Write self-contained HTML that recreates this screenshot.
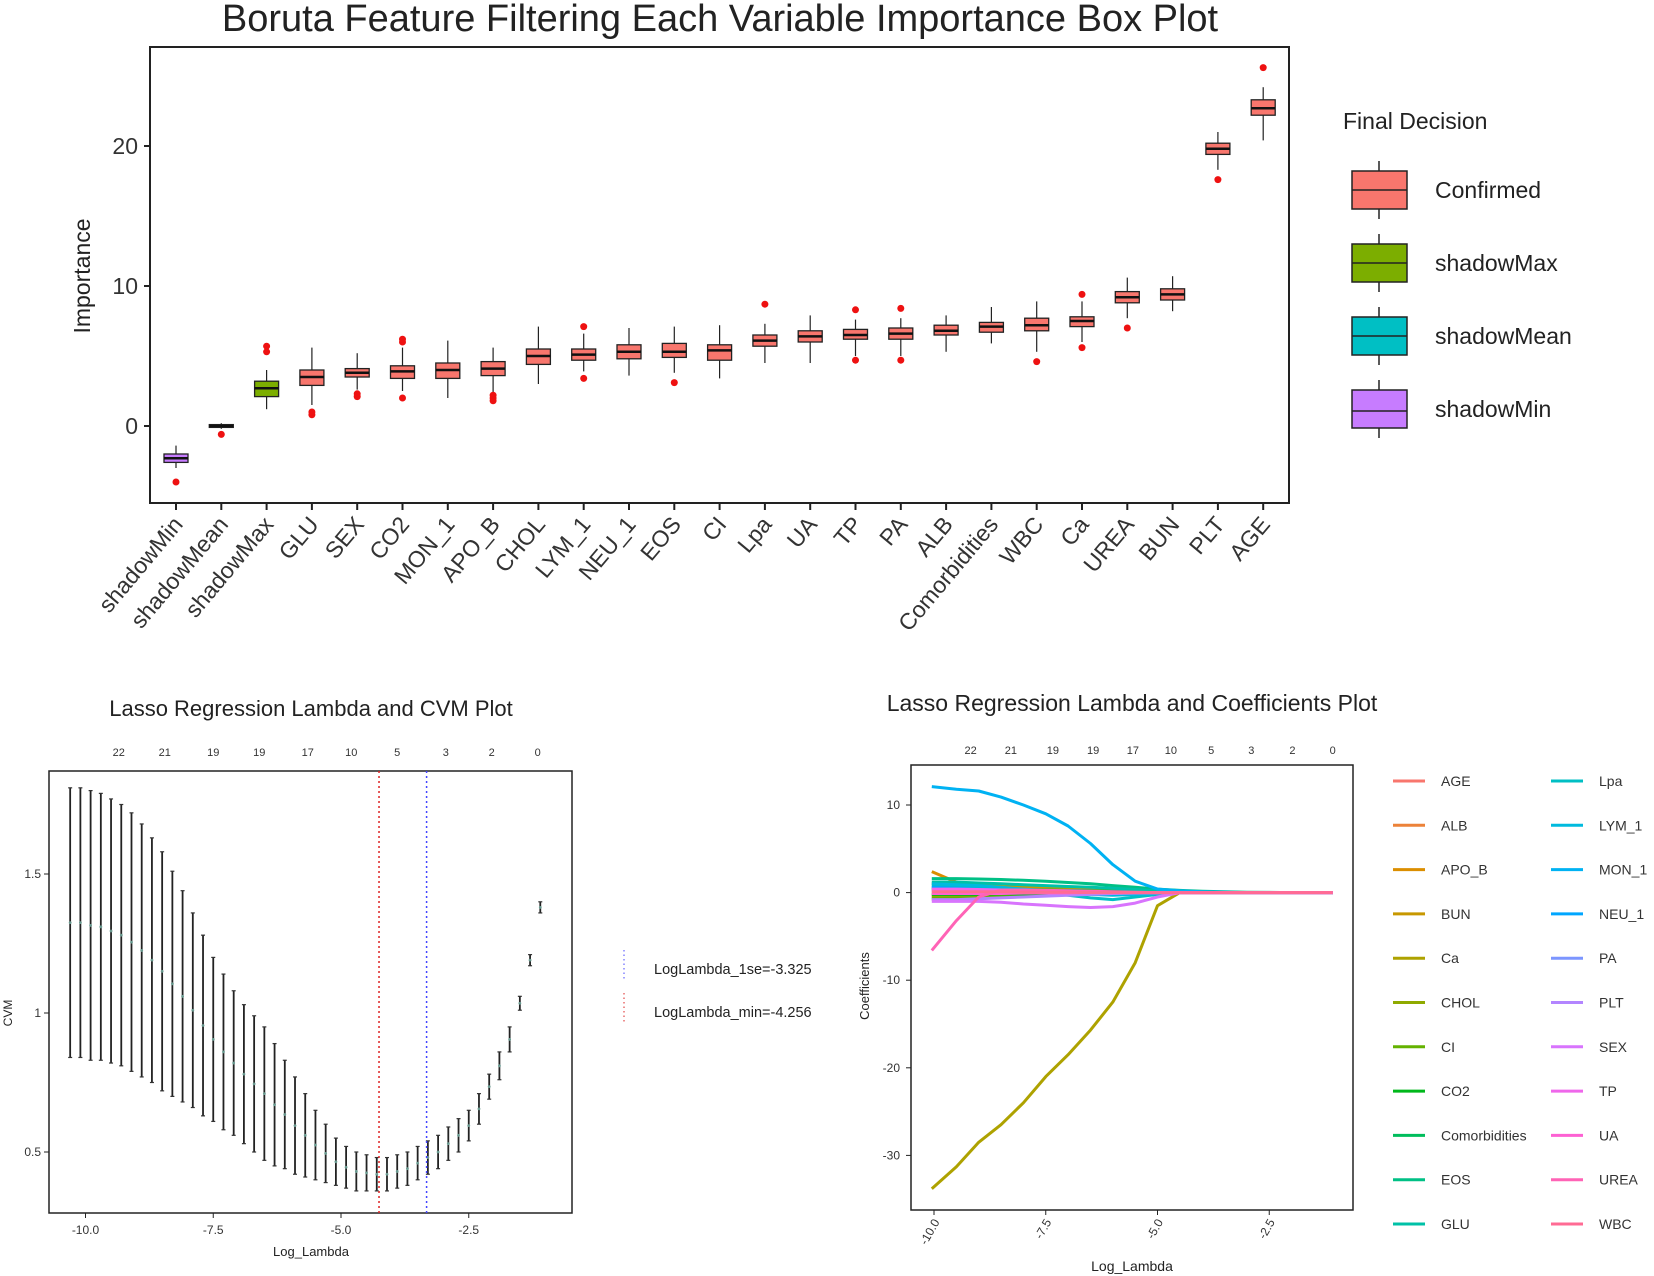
<!DOCTYPE html>
<html><head><meta charset="utf-8"><style>
html,body{margin:0;padding:0;background:#fff;}
svg{display:block;font-family:"Liberation Sans",sans-serif;}
</style></head><body>
<svg id="fig" width="1654" height="1276" viewBox="0 0 1654 1276" xmlns="http://www.w3.org/2000/svg">
<rect width="1654" height="1276" fill="#fff"/>
<g id="topChart">
<text x="720" y="31" font-size="38" text-anchor="middle" fill="#222">Boruta Feature Filtering Each Variable Importance Box Plot</text>
<rect x="150" y="47" width="1139" height="456" fill="#fff" stroke="#222" stroke-width="2"/>
<text transform="translate(90,276) rotate(-90)" font-size="23" text-anchor="middle" fill="#222">Importance</text>
<text x="1343" y="129" font-size="23" fill="#222">Final Decision</text>
</g>
<g id="cvm">
<text x="311" y="716" font-size="22" text-anchor="middle" fill="#222">Lasso Regression Lambda and CVM Plot</text>
<rect x="49" y="771" width="523" height="442" fill="#fff" stroke="#222" stroke-width="1.5"/>
<text transform="translate(12,1013) rotate(-90)" font-size="12" text-anchor="middle" fill="#222">CVM</text>
<text x="311" y="1256" font-size="13" text-anchor="middle" fill="#222">Log_Lambda</text>
<line x1="624" y1="950" x2="624" y2="980" stroke="#4444ff" stroke-dasharray="1.5,3"/>
<line x1="624" y1="993" x2="624" y2="1023" stroke="#dd2222" stroke-dasharray="1.5,3"/>
<text x="654" y="974" font-size="14.5" fill="#222">LogLambda_1se=-3.325</text>
<text x="654" y="1017" font-size="14.5" fill="#222">LogLambda_min=-4.256</text>
</g>
<g id="coef">
<text x="1132" y="711" font-size="23" text-anchor="middle" fill="#222">Lasso Regression Lambda and Coefficients Plot</text>
<rect x="911" y="765" width="442" height="445" fill="#fff" stroke="#222" stroke-width="1.5"/>
<text transform="translate(869,986) rotate(-90)" font-size="13" text-anchor="middle" fill="#222">Coefficients</text>
<text x="1132" y="1271" font-size="14" text-anchor="middle" fill="#222">Log_Lambda</text>
</g>
</svg>
<script>
const NS="http://www.w3.org/2000/svg";
function mk(parent,tag,attrs,text){const e=document.createElementNS(NS,tag);for(const k in attrs)e.setAttribute(k,attrs[k]);if(text!==undefined)e.textContent=text;parent.appendChild(e);return e;}

const borutaVars=["shadowMin","shadowMean","shadowMax","GLU","SEX","CO2","MON_1","APO_B","CHOL","LYM_1","NEU_1","EOS","CI","Lpa","UA","TP","PA","ALB","Comorbidities","WBC","Ca","UREA","BUN","PLT","AGE"];
const borutaDecision=["shadowMin","shadowMean","shadowMax","Confirmed","Confirmed","Confirmed","Confirmed","Confirmed","Confirmed","Confirmed","Confirmed","Confirmed","Confirmed","Confirmed","Confirmed","Confirmed","Confirmed","Confirmed","Confirmed","Confirmed","Confirmed","Confirmed","Confirmed","Confirmed","Confirmed"];
const borutaMedian=[-2.3,0,2.7,3.5,3.8,3.9,4.0,4.1,5.0,5.1,5.3,5.3,5.4,6.1,6.4,6.5,6.6,6.8,7.1,7.2,7.5,9.2,9.4,19.8,22.7];
const borutaQ1=[-2.6,-0.1,2.1,2.9,3.5,3.4,3.4,3.6,4.4,4.7,4.8,4.9,4.7,5.7,6.0,6.2,6.2,6.5,6.7,6.8,7.1,8.8,9.0,19.4,22.2];
const borutaQ3=[-2.0,0.1,3.2,4.0,4.1,4.3,4.5,4.6,5.5,5.5,5.8,5.9,5.8,6.5,6.8,6.9,7.0,7.2,7.4,7.7,7.8,9.6,9.8,20.2,23.3];
const borutaLow=[-3.0,-0.2,1.2,1.5,2.6,2.5,2.0,2.4,3.0,3.9,3.6,3.8,3.4,4.5,4.5,5.0,5.0,5.3,5.9,5.3,6.0,7.7,8.2,18.3,20.4];
const borutaHigh=[-1.4,0.2,4.0,5.6,5.2,5.6,6.1,5.6,7.1,6.6,7.0,7.1,7.2,7.3,7.9,7.6,7.7,7.9,8.5,8.9,8.9,10.6,10.7,21.0,24.2];
const borutaOutliers=[[-4.0],[-0.6],[5.3,5.7],[0.8,1.0],[2.1,2.3],[2.0,6.0,6.2],[],[1.8,2.0,2.2],[],[3.4,7.1],[],[3.1],[],[8.7],[],[4.7,8.3],[4.7,8.4],[],[],[4.6],[5.6,9.4],[7.0],[],[17.6],[25.6]];
const borutaYTicks=[0,10,20];
const legendLabels=["Confirmed","shadowMax","shadowMean","shadowMin"];
const fillColors={Confirmed:"#F8766D",shadowMax:"#7CAE00",shadowMean:"#00BFC4",shadowMin:"#C77CFF"};

const topG=document.getElementById('topChart');
const bx=i=>176+i*45.3;
const by=v=>426-v*14.0;
borutaYTicks.forEach(t=>{
  const tk=mk(topG,'line',{x1:144,x2:150,y1:by(t),y2:by(t),stroke:'#222','stroke-width':2});
  
  
  const tl=mk(topG,'text',{x:138,y:by(t)+8,'font-size':23,'text-anchor':'end',fill:'#333'},String(t));
  
  
});
borutaVars.forEach((v,i)=>{
  const x=bx(i);const g=mk(topG,'g',{});
  
  
  mk(g,'line',{x1:x,x2:x,y1:by(borutaHigh[i]),y2:by(borutaQ3[i]),stroke:'#222','stroke-width':1.2});
  mk(g,'line',{x1:x,x2:x,y1:by(borutaQ1[i]),y2:by(borutaLow[i]),stroke:'#222','stroke-width':1.2});
  const fc=(borutaDecision[i]==="shadowMean")?"#111":fillColors[borutaDecision[i]];
  mk(g,'rect',{x:x-12,y:by(borutaQ3[i]),width:24,height:Math.max(2,by(borutaQ1[i])-by(borutaQ3[i])),fill:fc,stroke:'#222','stroke-width':1.3});
  mk(g,'line',{x1:x-12,x2:x+12,y1:by(borutaMedian[i]),y2:by(borutaMedian[i]),stroke:'#111','stroke-width':2.5});
  borutaOutliers[i].forEach(o=>{
    const c=mk(g,'circle',{cx:x,cy:by(o),r:3.5,fill:'#ee1111'});
    
    
  });
  mk(topG,'line',{x1:x,x2:x,y1:503,y2:510,stroke:'#222','stroke-width':2});
  const lb=mk(topG,'text',{transform:`translate(${x+8},${525}) rotate(-50)`,'font-size':23,'text-anchor':'end',fill:'#333'},v);
  
  
});
legendLabels.forEach((l,k)=>{
  const cy=190+k*73;const g=mk(topG,'g',{});
  
  
  mk(g,'line',{x1:1379,x2:1379,y1:cy-29,y2:cy+29,stroke:'#222','stroke-width':1.5});
  mk(g,'rect',{x:1352,y:cy-19,width:55,height:38,fill:fillColors[l],stroke:'#222','stroke-width':1.5});
  mk(g,'line',{x1:1352,x2:1407,y1:(l==="shadowMin"?cy+2:cy),y2:(l==="shadowMin"?cy+2:cy),stroke:'#222','stroke-width':1.5});
  mk(g,'text',{x:1435,y:cy+8,'font-size':23,fill:'#222'},l);
});

const cvLambda=[-10.3,-10.1,-9.9,-9.7,-9.5,-9.3,-9.1,-8.9,-8.7,-8.5,-8.3,-8.1,-7.9,-7.7,-7.5,-7.3,-7.1,-6.9,-6.7,-6.5,-6.3,-6.1,-5.9,-5.7,-5.5,-5.3,-5.1,-4.9,-4.7,-4.5,-4.3,-4.1,-3.9,-3.7,-3.5,-3.3,-3.1,-2.9,-2.7,-2.5,-2.3,-2.1,-1.9,-1.7,-1.5,-1.3,-1.1];
const cvUpper=[1.81,1.81,1.80,1.79,1.77,1.75,1.72,1.68,1.63,1.58,1.51,1.44,1.36,1.28,1.20,1.14,1.08,1.03,0.99,0.95,0.89,0.83,0.77,0.71,0.65,0.60,0.55,0.52,0.50,0.49,0.48,0.48,0.49,0.50,0.52,0.54,0.56,0.59,0.62,0.65,0.71,0.78,0.86,0.95,1.06,1.21,1.40];
const cvLower=[0.84,0.84,0.83,0.83,0.82,0.81,0.79,0.77,0.75,0.72,0.70,0.68,0.66,0.63,0.61,0.58,0.56,0.53,0.50,0.47,0.45,0.44,0.42,0.41,0.40,0.39,0.38,0.37,0.36,0.36,0.36,0.36,0.37,0.38,0.40,0.42,0.44,0.47,0.50,0.54,0.60,0.69,0.76,0.86,1.01,1.17,1.36];
const cvXTicks=[-10,-7.5,-5,-2.5];
const cvXTickLabels=["-10.0","-7.5","-5.0","-2.5"];
const cvYTicks=[0.5,1,1.5];
const cvYTickLabels=["0.5","1","1.5"];
const nzeroLabels=["22","21","19","19","17","10","5","3","2","0"];
const nzeroLambda=[-9.35,-8.45,-7.5,-6.6,-5.65,-4.8,-3.9,-2.95,-2.05,-1.15];
const lambdaMin=-4.256, lambda1se=-3.325;

const cvm=document.getElementById('cvm');
const cx=l=>85.5+(l+10)*51.1;
const cy=v=>1013-(v-1)*278;
cvLambda.forEach((l,i)=>{
  const x=cx(l);const g=mk(cvm,'g',{});
  
  
  mk(g,'line',{x1:x,x2:x,y1:cy(cvUpper[i]),y2:cy(cvLower[i]),stroke:'#222','stroke-width':1.8});
  mk(g,'line',{x1:x-2,x2:x+2,y1:cy(cvUpper[i]),y2:cy(cvUpper[i]),stroke:'#333','stroke-width':1.2});
  mk(g,'line',{x1:x-2,x2:x+2,y1:cy(cvLower[i]),y2:cy(cvLower[i]),stroke:'#333','stroke-width':1.2});
  mk(g,'circle',{cx:x,cy:cy((cvUpper[i]+cvLower[i])/2),r:1.4,fill:'#6a9a90'});
});
[[lambdaMin,'#dd2222','min-lambda-line'],[lambda1se,'#4444ff','1se-lambda-line']].forEach(d=>{
  const ln=mk(cvm,'line',{x1:cx(d[0]),x2:cx(d[0]),y1:771,y2:1213,stroke:d[1],'stroke-width':1.5,'stroke-dasharray':'2,3'});
  
  
});
cvXTicks.forEach((t,i)=>{
  mk(cvm,'line',{x1:cx(t),x2:cx(t),y1:1213,y2:1218,stroke:'#222'});
  const tl=mk(cvm,'text',{x:cx(t),y:1234,'font-size':12,'text-anchor':'middle',fill:'#333'},cvXTickLabels[i]);
  
  
});
cvYTicks.forEach((t,i)=>{
  mk(cvm,'line',{x1:44,x2:49,y1:cy(t),y2:cy(t),stroke:'#222'});
  const tl=mk(cvm,'text',{x:41,y:cy(t)+4,'font-size':12,'text-anchor':'end',fill:'#333'},cvYTickLabels[i]);
  
  
});
nzeroLabels.forEach((s,i)=>{
  const tl=mk(cvm,'text',{x:cx(nzeroLambda[i]),y:756,'font-size':11,'text-anchor':'middle',fill:'#333'},s);
  
  
});

const coefLambda=[-10.05,-9.5,-9,-8.5,-8,-7.5,-7,-6.5,-6,-5.5,-5,-4.5,-4,-3,-2,-1.08];
const coefNames=["AGE","ALB","APO_B","BUN","Ca","CHOL","CI","CO2","Comorbidities","EOS","GLU","Lpa","LYM_1","MON_1","NEU_1","PA","PLT","SEX","TP","UA","UREA","WBC"];
const cAGE=[0.3,0.3,0.25,0.2,0.2,0.15,0.1,0.1,0.05,0.05,0.02,0,0,0,0,0];
const cALB=[-0.3,-0.3,-0.25,-0.2,-0.2,-0.15,-0.1,-0.1,-0.05,-0.05,0,0,0,0,0,0];
const cAPO_B=[2.4,1.2,0.5,0.3,0.2,0.1,0.1,0.05,0.02,0,0,0,0,0,0,0];
const cBUN=[1.0,0.9,0.8,0.7,0.6,0.5,0.4,0.3,0.2,0.1,0.05,0,0,0,0,0];
const cCa=[-33.8,-31.3,-28.5,-26.5,-24,-21,-18.5,-15.7,-12.5,-8,-1.5,0,0,0,0,0];
const cCHOL=[-0.5,-0.45,-0.4,-0.35,-0.3,-0.25,-0.2,-0.15,-0.1,-0.05,0,0,0,0,0,0];
const cCI=[-0.7,-0.65,-0.6,-0.5,-0.4,-0.3,-0.25,-0.2,-0.1,-0.05,0,0,0,0,0,0];
const cCO2=[-0.2,-0.2,-0.2,-0.15,-0.15,-0.1,-0.1,-0.05,-0.05,0,0,0,0,0,0,0];
const cComorbidities=[0.5,0.5,0.45,0.4,0.35,0.3,0.25,0.2,0.15,0.1,0.05,0.02,0,0,0,0];
const cEOS=[1.6,1.6,1.55,1.5,1.4,1.3,1.15,1.0,0.8,0.6,0.4,0.25,0.15,0.05,0,0];
const cGLU=[1.2,1.2,1.1,1.0,0.9,0.8,0.7,0.6,0.5,0.35,0.2,0.1,0.05,0,0,0];
const cLpa=[0.8,0.7,0.6,0.4,0.2,0,-0.3,-0.6,-0.8,-0.5,-0.2,0,0,0,0,0];
const cLYM_1=[1.0,0.9,0.8,0.6,0.4,0.2,0,-0.2,-0.3,-0.2,-0.1,0,0,0,0,0];
const cMON_1=[12.1,11.8,11.6,10.9,10,9,7.6,5.6,3.2,1.3,0.4,0.2,0.1,0,0,0];
const cNEU_1=[0.6,0.5,0.4,0.3,0.2,0.1,0.05,0,0,0,0,0,0,0,0,0];
const cPA=[0.2,0.2,0.2,0.15,0.15,0.1,0.1,0.05,0.05,0,0,0,0,0,0,0];
const cPLT=[-0.8,-0.8,-0.7,-0.6,-0.5,-0.4,-0.3,-0.2,-0.1,-0.05,0,0,0,0,0,0];
const cSEX=[-1.0,-1.0,-1.0,-1.1,-1.3,-1.45,-1.6,-1.7,-1.6,-1.2,-0.5,0,0,0,0,0];
const cTP=[0.4,0.4,0.35,0.3,0.25,0.2,0.15,0.1,0.05,0,0,0,0,0,0,0];
const cUA=[-0.1,-0.1,-0.1,-0.1,-0.05,-0.05,-0.05,0,0,0,0,0,0,0,0,0];
const cUREA=[-6.6,-3.2,-0.5,0.3,0.3,0.25,0.2,0.15,0.1,0.05,0,0,0,0,0,0];
const cWBC=[0.1,0.1,0.1,0.1,0.05,0.05,0.05,0,0,0,0,0,0,0,0,0];
const coefSeries=[cAGE,cALB,cAPO_B,cBUN,cCa,cCHOL,cCI,cCO2,cComorbidities,cEOS,cGLU,cLpa,cLYM_1,cMON_1,cNEU_1,cPA,cPLT,cSEX,cTP,cUA,cUREA,cWBC];
const coefXTicks=[-10,-7.5,-5,-2.5];
const coefXTickLabels=["-10.0","-7.5","-5.0","-2.5"];
const coefYTicks=[10,0,-10,-20,-30];
const coefNzeroLambda=[-9.18,-8.28,-7.34,-6.44,-5.55,-4.7,-3.8,-2.9,-1.98,-1.08];

function hcl(h){const L=65,C=100,hr=h*Math.PI/180;const u=C*Math.cos(hr),v=C*Math.sin(hr);
 const Y=Math.pow((L+16)/116,3);const up=u/(13*L)+0.19784,vp=v/(13*L)+0.46834;
 const X=Y*9*up/(4*vp),Z=Y*(12-3*up-20*vp)/(4*vp);
 let r=3.2406*X-1.5372*Y-0.4986*Z,g=-0.9689*X+1.8758*Y+0.0415*Z,b=0.0557*X-0.2040*Y+1.0570*Z;
 const gm=c=>{c=c<=0.0031308?12.92*c:1.055*Math.pow(c,1/2.4)-0.055;return Math.round(Math.max(0,Math.min(1,c))*255);};
 return `rgb(${gm(r)},${gm(g)},${gm(b)})`;}
const coefG=document.getElementById('coef');
const rx=l=>934+(l+10)*44.7;
const ry=v=>892.6-v*8.76;
const clip=mk(coefG,'clipPath',{id:'cp'});mk(clip,'rect',{x:912,y:766,width:440,height:443});
const lg=mk(coefG,'g',{'clip-path':'url(#cp)'});
coefNames.forEach((n,k)=>{
  const col=hcl(15+k*360/22);
  const d=coefLambda.map((l,i)=>(i?'L':'M')+rx(l).toFixed(1)+','+ry(coefSeries[k][i]).toFixed(1)).join(' ');
  const p=mk(lg,'path',{d:d,fill:'none',stroke:col,'stroke-width':3,'stroke-linejoin':'round'});
  
  
  const colI=k<11?0:1,row=k%11;const yy=781+row*44.3;
  const lx=colI?1551:1393,tx=colI?1599:1441;
  const le=mk(coefG,'g',{});
  
  
  mk(le,'line',{x1:lx,x2:lx+32,y1:yy,y2:yy,stroke:col,'stroke-width':3});
  mk(le,'text',{x:tx,y:yy+5,'font-size':14,fill:'#333'},n);
});
coefXTicks.forEach((t,i)=>{
  mk(coefG,'line',{x1:rx(t),x2:rx(t),y1:1210,y2:1215,stroke:'#222'});
  const tl=mk(coefG,'text',{transform:`translate(${rx(t)+6},${1222}) rotate(-60)`,'font-size':12,'text-anchor':'end',fill:'#333'},coefXTickLabels[i]);
  
  
});
coefYTicks.forEach(t=>{
  mk(coefG,'line',{x1:906,x2:911,y1:ry(t),y2:ry(t),stroke:'#222'});
  const tl=mk(coefG,'text',{x:900,y:ry(t)+4,'font-size':12,'text-anchor':'end',fill:'#333'},String(t));
  
  
});
nzeroLabels.forEach((s,i)=>{
  const tl=mk(coefG,'text',{x:rx(coefNzeroLambda[i]),y:754,'font-size':11,'text-anchor':'middle',fill:'#333'},s);
  
  
});
</script>
</body></html>
